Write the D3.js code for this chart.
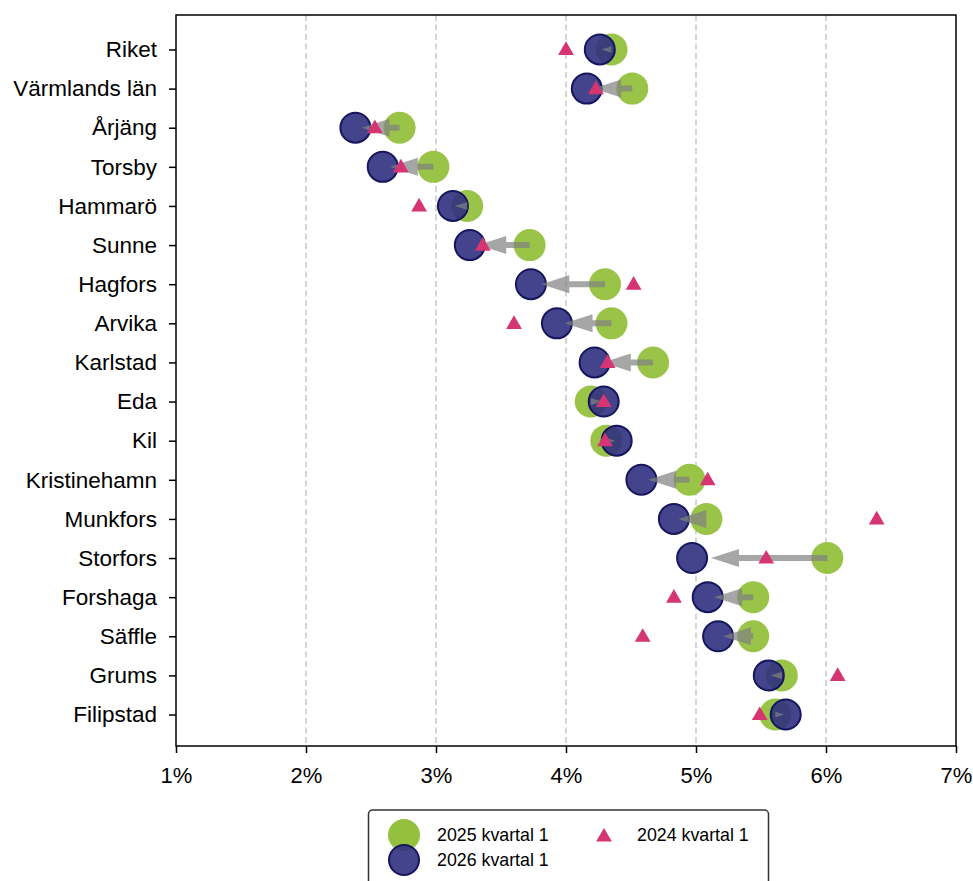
<!DOCTYPE html>
<html>
<head>
<meta charset="utf-8">
<script src="https://cdn.jsdelivr.net/npm/d3@7"></script>
<style>
  html, body { margin: 0; padding: 0; background: #fff; }
  svg { display: block; font-family: "Liberation Sans", Arial, sans-serif; }
</style>
</head>
<body>
<svg id="chart" width="973" height="881"></svg>
<script>
const categories = ["Riket","Värmlands län","Årjäng","Torsby","Hammarö","Sunne","Hagfors","Arvika","Karlstad","Eda","Kil","Kristinehamn","Munkfors","Storfors","Forshaga","Säffle","Grums","Filipstad"];
const v2025 = [4.35,4.51,2.72,2.98,3.24,3.72,4.30,4.35,4.67,4.19,4.31,4.95,5.08,6.01,5.44,5.44,5.66,5.61];
const v2026 = [4.26,4.16,2.38,2.59,3.13,3.26,3.73,3.93,4.22,4.29,4.39,4.58,4.83,4.97,5.09,5.17,5.56,5.69];
const v2024 = [4.00,4.23,2.53,2.73,2.87,3.36,4.52,3.60,4.32,4.29,4.30,5.09,6.39,5.54,4.83,4.59,6.09,5.49];
const xTicks = [1,2,3,4,5,6,7];
const gridTicks = [2,3,4,5,6];
const legendLabels = ["2025 kvartal 1","2026 kvartal 1","2024 kvartal 1"];

const GREEN = "#93c13d", BLUE = "#2f3080", BLUE_EDGE = "#16165e", PINK = "#d63574";

const svg = d3.select("#chart");
const L = 176, R = 956, T = 15, B = 746;

const x = d3.scaleLinear().domain([1,7]).range([L,R]);
const y = d3.scalePoint().domain(categories).range([17,747]).padding(0.83);

// grid
svg.append("g").selectAll("line").data(gridTicks).join("line")
  .attr("x1", d=>x(d)).attr("x2", d=>x(d)).attr("y1", T).attr("y2", B)
  .attr("stroke", "#c8c8c8").attr("stroke-width", 1.5).attr("stroke-dasharray", "6,3.5");

const rows = categories.map((c,i)=>({c, a:v2025[i], b:v2026[i], p:v2024[i]}));

// green circles
svg.append("g").selectAll("circle").data(rows).join("circle")
  .attr("cx", d=>x(d.a)).attr("cy", d=>y(d.c)).attr("r", 16)
  .attr("fill", GREEN).attr("fill-opacity", 0.95);

// blue circles
svg.append("g").selectAll("circle").data(rows).join("circle")
  .attr("cx", d=>x(d.b)).attr("cy", d=>y(d.c)).attr("r", 15)
  .attr("fill", BLUE).attr("fill-opacity", 0.9)
  .attr("stroke", BLUE_EDGE).attr("stroke-width", 2);

// arrows
function arrowPath(d){
  const x0 = x(d.a), yc = y(d.c);
  const len = (x(d.b) - x(d.a)) * 0.86;
  const dir = Math.sign(len) || 1;
  const al = Math.abs(len);
  const HL = 28, HW = 18, SW = 6;
  let hl = HL, hw = HW;
  if (al < HL) { hl = al; hw = HW * al / HL; }
  const sw = Math.min(SW, hw);
  const tip = x0 + len;
  const back = tip - dir*hl;
  return `M${x0},${yc-sw/2} L${back},${yc-sw/2} L${back},${yc-hw/2} L${tip},${yc} L${back},${yc+hw/2} L${back},${yc+sw/2} L${x0},${yc+sw/2} Z`;
}
svg.append("g").selectAll("path").data(rows).join("path")
  .attr("d", arrowPath).attr("fill", "#808080").attr("fill-opacity", 0.7);

// triangles
const tri = d3.symbol().type(d3.symbolTriangle).size(108);
svg.append("g").selectAll("path").data(rows).join("path")
  .attr("d", tri)
  .attr("transform", d=>`translate(${x(d.p)},${y(d.c)+1})`)
  .attr("fill", PINK);

// frame
svg.append("rect").attr("x", L).attr("y", T).attr("width", R-L).attr("height", B-T)
  .attr("fill", "none").attr("stroke", "#000").attr("stroke-width", 1.5);

// axes
const xAxis = svg.append("g").attr("transform", `translate(0,${B})`)
  .call(d3.axisBottom(x).tickValues(xTicks).tickFormat(d=>d+"%").tickSize(7).tickSizeOuter(0));
xAxis.select(".domain").remove();
xAxis.selectAll("line").attr("stroke","#000").attr("stroke-width",1.5);
xAxis.selectAll("text").attr("font-size", 22).attr("fill","#000").attr("y", 37).attr("dy", 0)
  .attr("font-family", "Liberation Sans, Arial, sans-serif");

const yAxis = svg.append("g").attr("transform", `translate(${L},0)`)
  .call(d3.axisLeft(y).tickSize(7).tickSizeOuter(0));
yAxis.select(".domain").remove();
yAxis.selectAll("line").attr("stroke","#000").attr("stroke-width",1.5);
yAxis.selectAll("text").attr("font-size", 22.5).attr("fill","#000").attr("x", -19)
  .attr("font-family", "Liberation Sans, Arial, sans-serif");

// legend
const lg = svg.append("g");
lg.append("rect").attr("x", 368.5).attr("y", 810).attr("width", 400).attr("height", 90).attr("rx", 4)
  .attr("fill", "#fff").attr("stroke", "#333").attr("stroke-width", 1.5);
lg.append("circle").attr("cx", 404).attr("cy", 835).attr("r", 16).attr("fill", GREEN);
lg.append("circle").attr("cx", 404).attr("cy", 860).attr("r", 15).attr("fill", BLUE).attr("fill-opacity",0.9)
  .attr("stroke", BLUE_EDGE).attr("stroke-width", 2);
lg.append("path").attr("d", tri).attr("transform", "translate(604,837)").attr("fill", PINK);
const legTxt = [[437,841,legendLabels[0]],[437,866,legendLabels[1]],[637,841,legendLabels[2]]];
lg.selectAll("text").data(legTxt).join("text")
  .attr("x", d=>d[0]).attr("y", d=>d[1]).text(d=>d[2])
  .attr("font-size", 17.8).attr("fill", "#000");
</script>
</body>
</html>
